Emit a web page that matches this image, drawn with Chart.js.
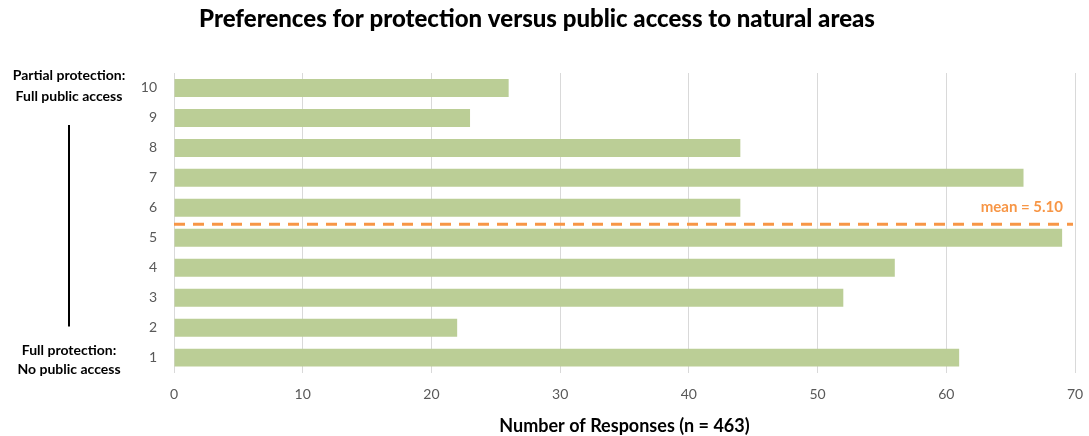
<!DOCTYPE html>
<html><head><meta charset="utf-8">
<script src="https://cdn.jsdelivr.net/npm/chart.js@4/dist/chart.umd.min.js"></script>
<style>html,body{margin:0;padding:0;background:#fff}#wrap{width:1089px;height:436px}</style>
</head><body><div id="wrap"><canvas id="c"></canvas></div>
<script>
const scores = ['10','9','8','7','6','5','4','3','2','1'];
const responses = [26, 23, 44, 66, 44, 69, 56, 52, 22, 61];
const xTicks = [0, 10, 20, 30, 40, 50, 60, 70];
const meanValue = 5.10;
const meanLinePosition = 5.45; // position on the score axis where the mean line is drawn
const topLabel = ['Partial protection:', 'Full public access'];
const bottomLabel = ['Full protection:', 'No public access'];
const titleText = 'Preferences for protection versus public access to natural areas';
const xTitle = 'Number of Responses (n = 463)';

const FONT = "Lato, 'Open Sans', sans-serif";
const PAD_LEFT = 110, PLOT_LEFT = 174;

const overlay = {
  id: 'overlay',
  afterDatasetsDraw(chart) {
    const ctx = chart.ctx, y = chart.scales.y, area = chart.chartArea;
    ctx.save();
    // title
    ctx.fillStyle = '#000';
    ctx.font = "900 24px " + FONT;
    ctx.textAlign = 'center';
    ctx.textBaseline = 'middle';
    ctx.fillText(titleText, 537, 19);
    // mean line
    const idx = scores.length - meanLinePosition;
    const ly = y.getPixelForValue(idx);
    ctx.strokeStyle = '#F79646';
    ctx.lineWidth = 3;
    ctx.setLineDash([11, 8]);
    ctx.beginPath();
    ctx.moveTo(area.left, ly);
    ctx.lineTo(area.right - 2, ly);
    ctx.stroke();
    ctx.setLineDash([]);
    ctx.fillStyle = '#F79646';
    ctx.font = "bold 15px " + FONT;
    ctx.textAlign = 'right';
    ctx.fillText('mean = ' + meanValue.toFixed(2), area.right - 12, ly - 17);
    // left annotations
    ctx.fillStyle = '#000';
    ctx.font = "bold 14px " + FONT;
    ctx.textAlign = 'center';
    const cx = 69;
    const yTop = y.getPixelForValue(0);
    const yBot = y.getPixelForValue(scores.length - 1);
    ctx.fillText(topLabel[0], cx, yTop - 12);
    ctx.fillText(topLabel[1], cx, yTop + 9);
    ctx.fillText(bottomLabel[0], cx, yBot - 7);
    ctx.fillText(bottomLabel[1], cx, yBot + 12);
    ctx.strokeStyle = '#000';
    ctx.lineWidth = 2;
    ctx.beginPath();
    ctx.moveTo(cx, yTop + 37);
    ctx.lineTo(cx, yBot - 31);
    ctx.stroke();
    ctx.restore();
  }
};

new Chart(document.getElementById('c'), {
  type: 'bar',
  data: {
    labels: scores,
    datasets: [{
      data: responses,
      backgroundColor: '#BBCE96',
      borderWidth: 0,
      barPercentage: 0.6,
      categoryPercentage: 1.0
    }]
  },
  options: {
    indexAxis: 'y',
    responsive: true,
    maintainAspectRatio: false,
    animation: false,
    layout: { padding: { left: PAD_LEFT, right: 14, top: 73, bottom: -1 } },
    plugins: {
      legend: { display: false },
      tooltip: { enabled: false },
      title: { display: false }
    },
    scales: {
      x: {
        min: 0, max: 70,
        afterBuildTicks(s) { s.ticks = xTicks.map(v => ({ value: v })); },
        afterFit(s) { s.paddingRight = 0; },
        grid: { color: '#D9D9D9', lineWidth: 1, drawTicks: false },
        border: { display: false },
        ticks: { color: '#595959', font: { family: FONT, size: 14 }, padding: 13 },
        title: {
          display: true, text: xTitle, color: '#000',
          font: { family: FONT, size: 18, weight: 'bold' },
          padding: { top: 0, bottom: 0 }
        }
      },
      y: {
        afterFit(s) { s.width = PLOT_LEFT - PAD_LEFT; },
        grid: { display: false, drawTicks: false },
        border: { display: false },
        ticks: { color: '#595959', font: { family: FONT, size: 14 }, padding: 17 }
      }
    }
  },
  plugins: [overlay]
});
</script>
</body></html>
